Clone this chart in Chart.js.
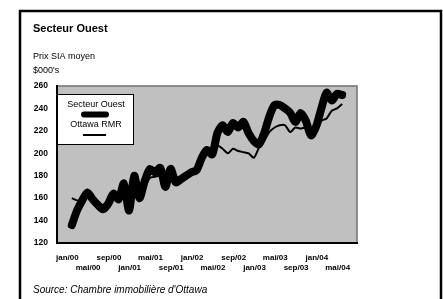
<!DOCTYPE html>
<html lang="fr">
<head>
<meta charset="utf-8">
<title>Secteur Ouest</title>
<script src="https://cdn.jsdelivr.net/npm/chart.js@4.4.1/dist/chart.umd.min.js"></script>
<style>
  html, body { margin: 0; padding: 0; background: #fff; }
  #wrap { position: relative; width: 443px; height: 299px; }
</style>
</head>
<body>
<div id="wrap"><canvas id="prixChart"></canvas></div>
<script>
// Mois de jan/00 à mai/04
const moisNoms = ['jan', 'fév', 'mar', 'avr', 'mai', 'jun', 'jul', 'aoû', 'sep', 'oct', 'nov', 'déc'];
const annees = ['00', '01', '02', '03', '04'];
const categories = [];
for (let i = 0; i < 53; i++) {
    categories.push(moisNoms[i % 12] + '/' + annees[Math.floor(i / 12)]);
}

// Prix SIA moyen ($000's)
const secteurOuest = [136, 149, 158, 165, 159, 154, 150, 155, 164, 159,
                      173, 149, 180, 160, 175, 186, 183, 187, 170, 186,
                      174, 177, 180, 183, 185, 196, 203, 199, 218, 225,
                      219, 227, 223, 228, 218, 211, 208, 218, 233, 243,
                      243, 240, 236, 228, 236, 229, 216, 224, 240, 254,
                      247, 253, 252];
const ottawaRMR = [160, 158, 157, 163, 160, 156, 154, 157, 161, 161,
                   165, 160, 170, 166, 170, 178, 179, 180, 176, 180,
                   176, 178, 180, 182, 186, 194, 200, 204, 207, 204,
                   200, 204, 202, 201, 200, 196, 205, 211, 219, 223,
                   225, 225, 219, 223, 222, 223, 218, 221, 229, 231,
                   238, 240, 244];

const xTickLabels = ['jan/00', 'mai/00', 'sep/00', 'jan/01', 'mai/01', 'sep/01', 'jan/02',
                     'mai/02', 'sep/02', 'jan/03', 'mai/03', 'sep/03', 'jan/04', 'mai/04'];
const yTicks = [120, 140, 160, 180, 200, 220, 240, 260];

const FONT = "'Liberation Sans', Arial, sans-serif";

function toPoints(values) {
    return values.map((v, i) => ({ x: i, y: v }));
}

// cadre, fond gris, textes et légende
const decor = {
    id: 'decor',
    beforeDraw(chart) {
        const ctx = chart.ctx;
        const a = chart.chartArea;
        ctx.save();
        ctx.strokeStyle = '#000';
        ctx.lineWidth = 2.5;
        ctx.beginPath();
        ctx.moveTo(20, 320);
        ctx.lineTo(20, 11);
        ctx.lineTo(441, 11);
        ctx.lineTo(441, 320);
        ctx.stroke();

        ctx.fillStyle = '#c0c0c0';
        ctx.fillRect(a.left, a.top, a.right - a.left, a.bottom - a.top);
        ctx.strokeStyle = '#707070';
        ctx.lineWidth = 1.5;
        ctx.beginPath();
        ctx.moveTo(a.left, a.top);
        ctx.lineTo(a.right, a.top);
        ctx.lineTo(a.right, a.bottom);
        ctx.stroke();

        ctx.fillStyle = '#000';
        ctx.textAlign = 'left';
        ctx.textBaseline = 'middle';
        ctx.font = 'bold 11px ' + FONT;
        ctx.fillText('Secteur Ouest', 33, 29);
        ctx.font = '9px ' + FONT;
        ctx.fillText('Prix SIA moyen', 33, 57);
        ctx.fillText("$000's", 33, 71);
        ctx.font = 'italic 10px ' + FONT;
        ctx.fillText("Source: Chambre immobilière d'Ottawa", 33, 290);
        ctx.restore();
    },
    afterDatasetsDraw(chart) {
        const ctx = chart.ctx;
        const a = chart.chartArea;
        const ds = chart.data.datasets;
        const x0 = a.left, y0 = a.top + 8, w = 76, h = 50;
        const cx = x0 + w / 2;
        ctx.save();
        ctx.fillStyle = '#fff';
        ctx.fillRect(x0, y0, w, h);
        ctx.strokeStyle = '#000';
        ctx.lineWidth = 1;
        ctx.strokeRect(x0 + 0.5, y0 + 0.5, w, h);

        ctx.fillStyle = '#000';
        ctx.textAlign = 'center';
        ctx.textBaseline = 'middle';
        ctx.font = '9px ' + FONT;
        ctx.fillText(ds[0].label, cx + 1, y0 + 11);
        ctx.fillText(ds[1].label, cx + 1, y0 + 31);

        ctx.lineCap = 'round';
        ctx.strokeStyle = ds[0].borderColor;
        ctx.lineWidth = 6;
        ctx.beginPath();
        ctx.moveTo(cx - 11, y0 + 20.5);
        ctx.lineTo(cx + 11, y0 + 20.5);
        ctx.stroke();

        ctx.lineCap = 'butt';
        ctx.strokeStyle = ds[1].borderColor;
        ctx.lineWidth = ds[1].borderWidth;
        ctx.beginPath();
        ctx.moveTo(cx - 12, y0 + 41);
        ctx.lineTo(cx + 11, y0 + 41);
        ctx.stroke();
        ctx.restore();
    }
};

new Chart(document.getElementById('prixChart'), {
    type: 'line',
    data: {
        datasets: [{
            label: 'Secteur Ouest',
            data: toPoints(secteurOuest),
            borderColor: '#000',
            borderWidth: 8,
            borderCapStyle: 'round',
            borderJoinStyle: 'round',
            pointRadius: 0,
            tension: 0.25
        }, {
            label: 'Ottawa RMR',
            data: toPoints(ottawaRMR),
            borderColor: '#000',
            borderWidth: 2,
            borderJoinStyle: 'round',
            pointRadius: 0,
            tension: 0.25
        }]
    },
    options: {
        responsive: true,
        maintainAspectRatio: false,
        animation: false,
        layout: {
            padding: { top: 86, right: 86, bottom: 16, left: 0 }
        },
        plugins: {
            legend: { display: false },
            tooltip: { enabled: false }
        },
        scales: {
            x: {
                type: 'linear',
                min: -2.85,
                max: 54.85,
                grid: { display: false, drawTicks: false },
                border: { display: true, color: '#000', width: 2 },
                afterFit: function(scale) { scale.height = 40; },
                afterBuildTicks: function(scale) {
                    scale.ticks = xTickLabels.map(l => ({ value: categories.indexOf(l) }));
                },
                ticks: {
                    autoSkip: false,
                    maxRotation: 0,
                    padding: 10,
                    labelOffset: -4.5,
                    color: '#000',
                    font: { family: FONT, size: 8, weight: 'bold', lineHeight: 1.2 },
                    callback: function(value) {
                        const k = xTickLabels.indexOf(categories[value]);
                        return k % 2 === 0 ? [categories[value], ''] : ['', categories[value]];
                    }
                }
            },
            y: {
                min: 120,
                max: 260,
                grid: { display: false, drawTicks: false },
                border: { display: true, color: '#000', width: 2 },
                afterFit: function(scale) { scale.width = 57; },
                afterBuildTicks: function(scale) {
                    scale.ticks = yTicks.map(v => ({ value: v }));
                },
                ticks: {
                    padding: 9,
                    color: '#000',
                    font: { family: FONT, size: 8.5, weight: 'bold' }
                }
            }
        }
    },
    plugins: [decor]
});
</script>
</body>
</html>
